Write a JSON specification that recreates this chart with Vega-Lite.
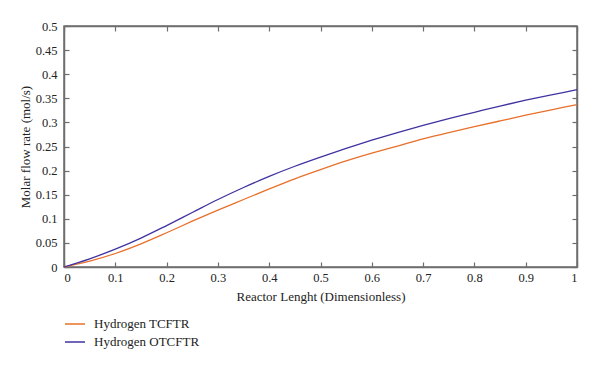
{
  "$schema": "https://vega.github.io/schema/vega-lite/v6.json",
  "width": 513,
  "height": 241,
  "autosize": {"type": "none"},
  "padding": {"left": 64, "top": 26, "right": 23, "bottom": 105},
  "config": {
    "font": "Liberation Serif",
    "view": {"stroke": "#6e6e6e", "strokeWidth": 1.5},
    "axis": {
      "domainColor": "#6e6e6e", "domainWidth": 1.5,
      "tickColor": "#6e6e6e", "tickWidth": 1.2, "tickSize": -5,
      "grid": false, "labelFont": "Liberation Serif", "labelFontSize": 12.5,
      "labelColor": "#222", "titleFont": "Liberation Serif", "titleFontSize": 13,
      "titleFontWeight": "normal", "titleColor": "#222"
    }
  },
  "resolve": {"axis": {"x": "independent", "y": "independent"}},
  "data": {"values": [
    {"x": 0, "y": 0, "s": "Hydrogen TCFTR"},
    {"x": 0.05, "y": 0.012, "s": "Hydrogen TCFTR"},
    {"x": 0.1, "y": 0.028, "s": "Hydrogen TCFTR"},
    {"x": 0.15, "y": 0.048, "s": "Hydrogen TCFTR"},
    {"x": 0.2, "y": 0.071, "s": "Hydrogen TCFTR"},
    {"x": 0.25, "y": 0.095, "s": "Hydrogen TCFTR"},
    {"x": 0.3, "y": 0.118, "s": "Hydrogen TCFTR"},
    {"x": 0.35, "y": 0.140, "s": "Hydrogen TCFTR"},
    {"x": 0.4, "y": 0.162, "s": "Hydrogen TCFTR"},
    {"x": 0.45, "y": 0.183, "s": "Hydrogen TCFTR"},
    {"x": 0.5, "y": 0.202, "s": "Hydrogen TCFTR"},
    {"x": 0.55, "y": 0.220, "s": "Hydrogen TCFTR"},
    {"x": 0.6, "y": 0.236, "s": "Hydrogen TCFTR"},
    {"x": 0.65, "y": 0.251, "s": "Hydrogen TCFTR"},
    {"x": 0.7, "y": 0.266, "s": "Hydrogen TCFTR"},
    {"x": 0.75, "y": 0.279, "s": "Hydrogen TCFTR"},
    {"x": 0.8, "y": 0.291, "s": "Hydrogen TCFTR"},
    {"x": 0.85, "y": 0.303, "s": "Hydrogen TCFTR"},
    {"x": 0.9, "y": 0.315, "s": "Hydrogen TCFTR"},
    {"x": 0.95, "y": 0.326, "s": "Hydrogen TCFTR"},
    {"x": 1, "y": 0.337, "s": "Hydrogen TCFTR"},
    {"x": 0, "y": 0, "s": "Hydrogen OTCFTR"},
    {"x": 0.05, "y": 0.017, "s": "Hydrogen OTCFTR"},
    {"x": 0.1, "y": 0.037, "s": "Hydrogen OTCFTR"},
    {"x": 0.15, "y": 0.060, "s": "Hydrogen OTCFTR"},
    {"x": 0.2, "y": 0.086, "s": "Hydrogen OTCFTR"},
    {"x": 0.25, "y": 0.113, "s": "Hydrogen OTCFTR"},
    {"x": 0.3, "y": 0.140, "s": "Hydrogen OTCFTR"},
    {"x": 0.35, "y": 0.165, "s": "Hydrogen OTCFTR"},
    {"x": 0.4, "y": 0.188, "s": "Hydrogen OTCFTR"},
    {"x": 0.45, "y": 0.209, "s": "Hydrogen OTCFTR"},
    {"x": 0.5, "y": 0.228, "s": "Hydrogen OTCFTR"},
    {"x": 0.55, "y": 0.246, "s": "Hydrogen OTCFTR"},
    {"x": 0.6, "y": 0.263, "s": "Hydrogen OTCFTR"},
    {"x": 0.65, "y": 0.279, "s": "Hydrogen OTCFTR"},
    {"x": 0.7, "y": 0.294, "s": "Hydrogen OTCFTR"},
    {"x": 0.75, "y": 0.308, "s": "Hydrogen OTCFTR"},
    {"x": 0.8, "y": 0.321, "s": "Hydrogen OTCFTR"},
    {"x": 0.85, "y": 0.334, "s": "Hydrogen OTCFTR"},
    {"x": 0.9, "y": 0.346, "s": "Hydrogen OTCFTR"},
    {"x": 0.95, "y": 0.357, "s": "Hydrogen OTCFTR"},
    {"x": 1, "y": 0.368, "s": "Hydrogen OTCFTR"}
  ]},
  "layer": [
    {
      "mark": {"type": "line", "strokeWidth": 1.3, "interpolate": "monotone"},
      "encoding": {
        "x": {"field": "x", "type": "quantitative", "scale": {"domain": [0, 1], "nice": false},
              "axis": {"title": "Reactor Lenght (Dimensionless)", "values": [0,0.1,0.2,0.3,0.4,0.5,0.6,0.7,0.8,0.9,1], "format": "~g", "labelPadding": 9, "titlePadding": 7}},
        "y": {"field": "y", "type": "quantitative", "scale": {"domain": [0, 0.5], "nice": false},
              "axis": {"title": "Molar flow rate (mol/s)", "values": [0,0.05,0.1,0.15,0.2,0.25,0.3,0.35,0.4,0.45,0.5], "format": "~g", "labelPadding": 12, "titlePadding": 3}},
        "color": {"field": "s", "type": "nominal",
                  "scale": {"domain": ["Hydrogen TCFTR", "Hydrogen OTCFTR"], "range": ["#E8702A", "#3F33A0"]},
                  "legend": {"title": null, "orient": "none", "legendX": 0, "legendY": 287,
                             "symbolType": "stroke", "symbolSize": 400, "symbolStrokeWidth": 1.5,
                             "labelFont": "Liberation Serif", "labelFontSize": 13, "labelColor": "#222",
                             "labelOffset": 8, "rowPadding": 0}}
      }
    },
    {
      "mark": {"type": "line", "opacity": 0},
      "encoding": {
        "x": {"field": "x", "type": "quantitative",
              "axis": {"orient": "top", "labels": false, "title": null, "values": [0,0.1,0.2,0.3,0.4,0.5,0.6,0.7,0.8,0.9,1]}},
        "y": {"field": "y", "type": "quantitative",
              "axis": {"orient": "right", "labels": false, "title": null, "values": [0,0.05,0.1,0.15,0.2,0.25,0.3,0.35,0.4,0.45,0.5]}},
        "detail": {"field": "s"}
      }
    }
  ]
}
